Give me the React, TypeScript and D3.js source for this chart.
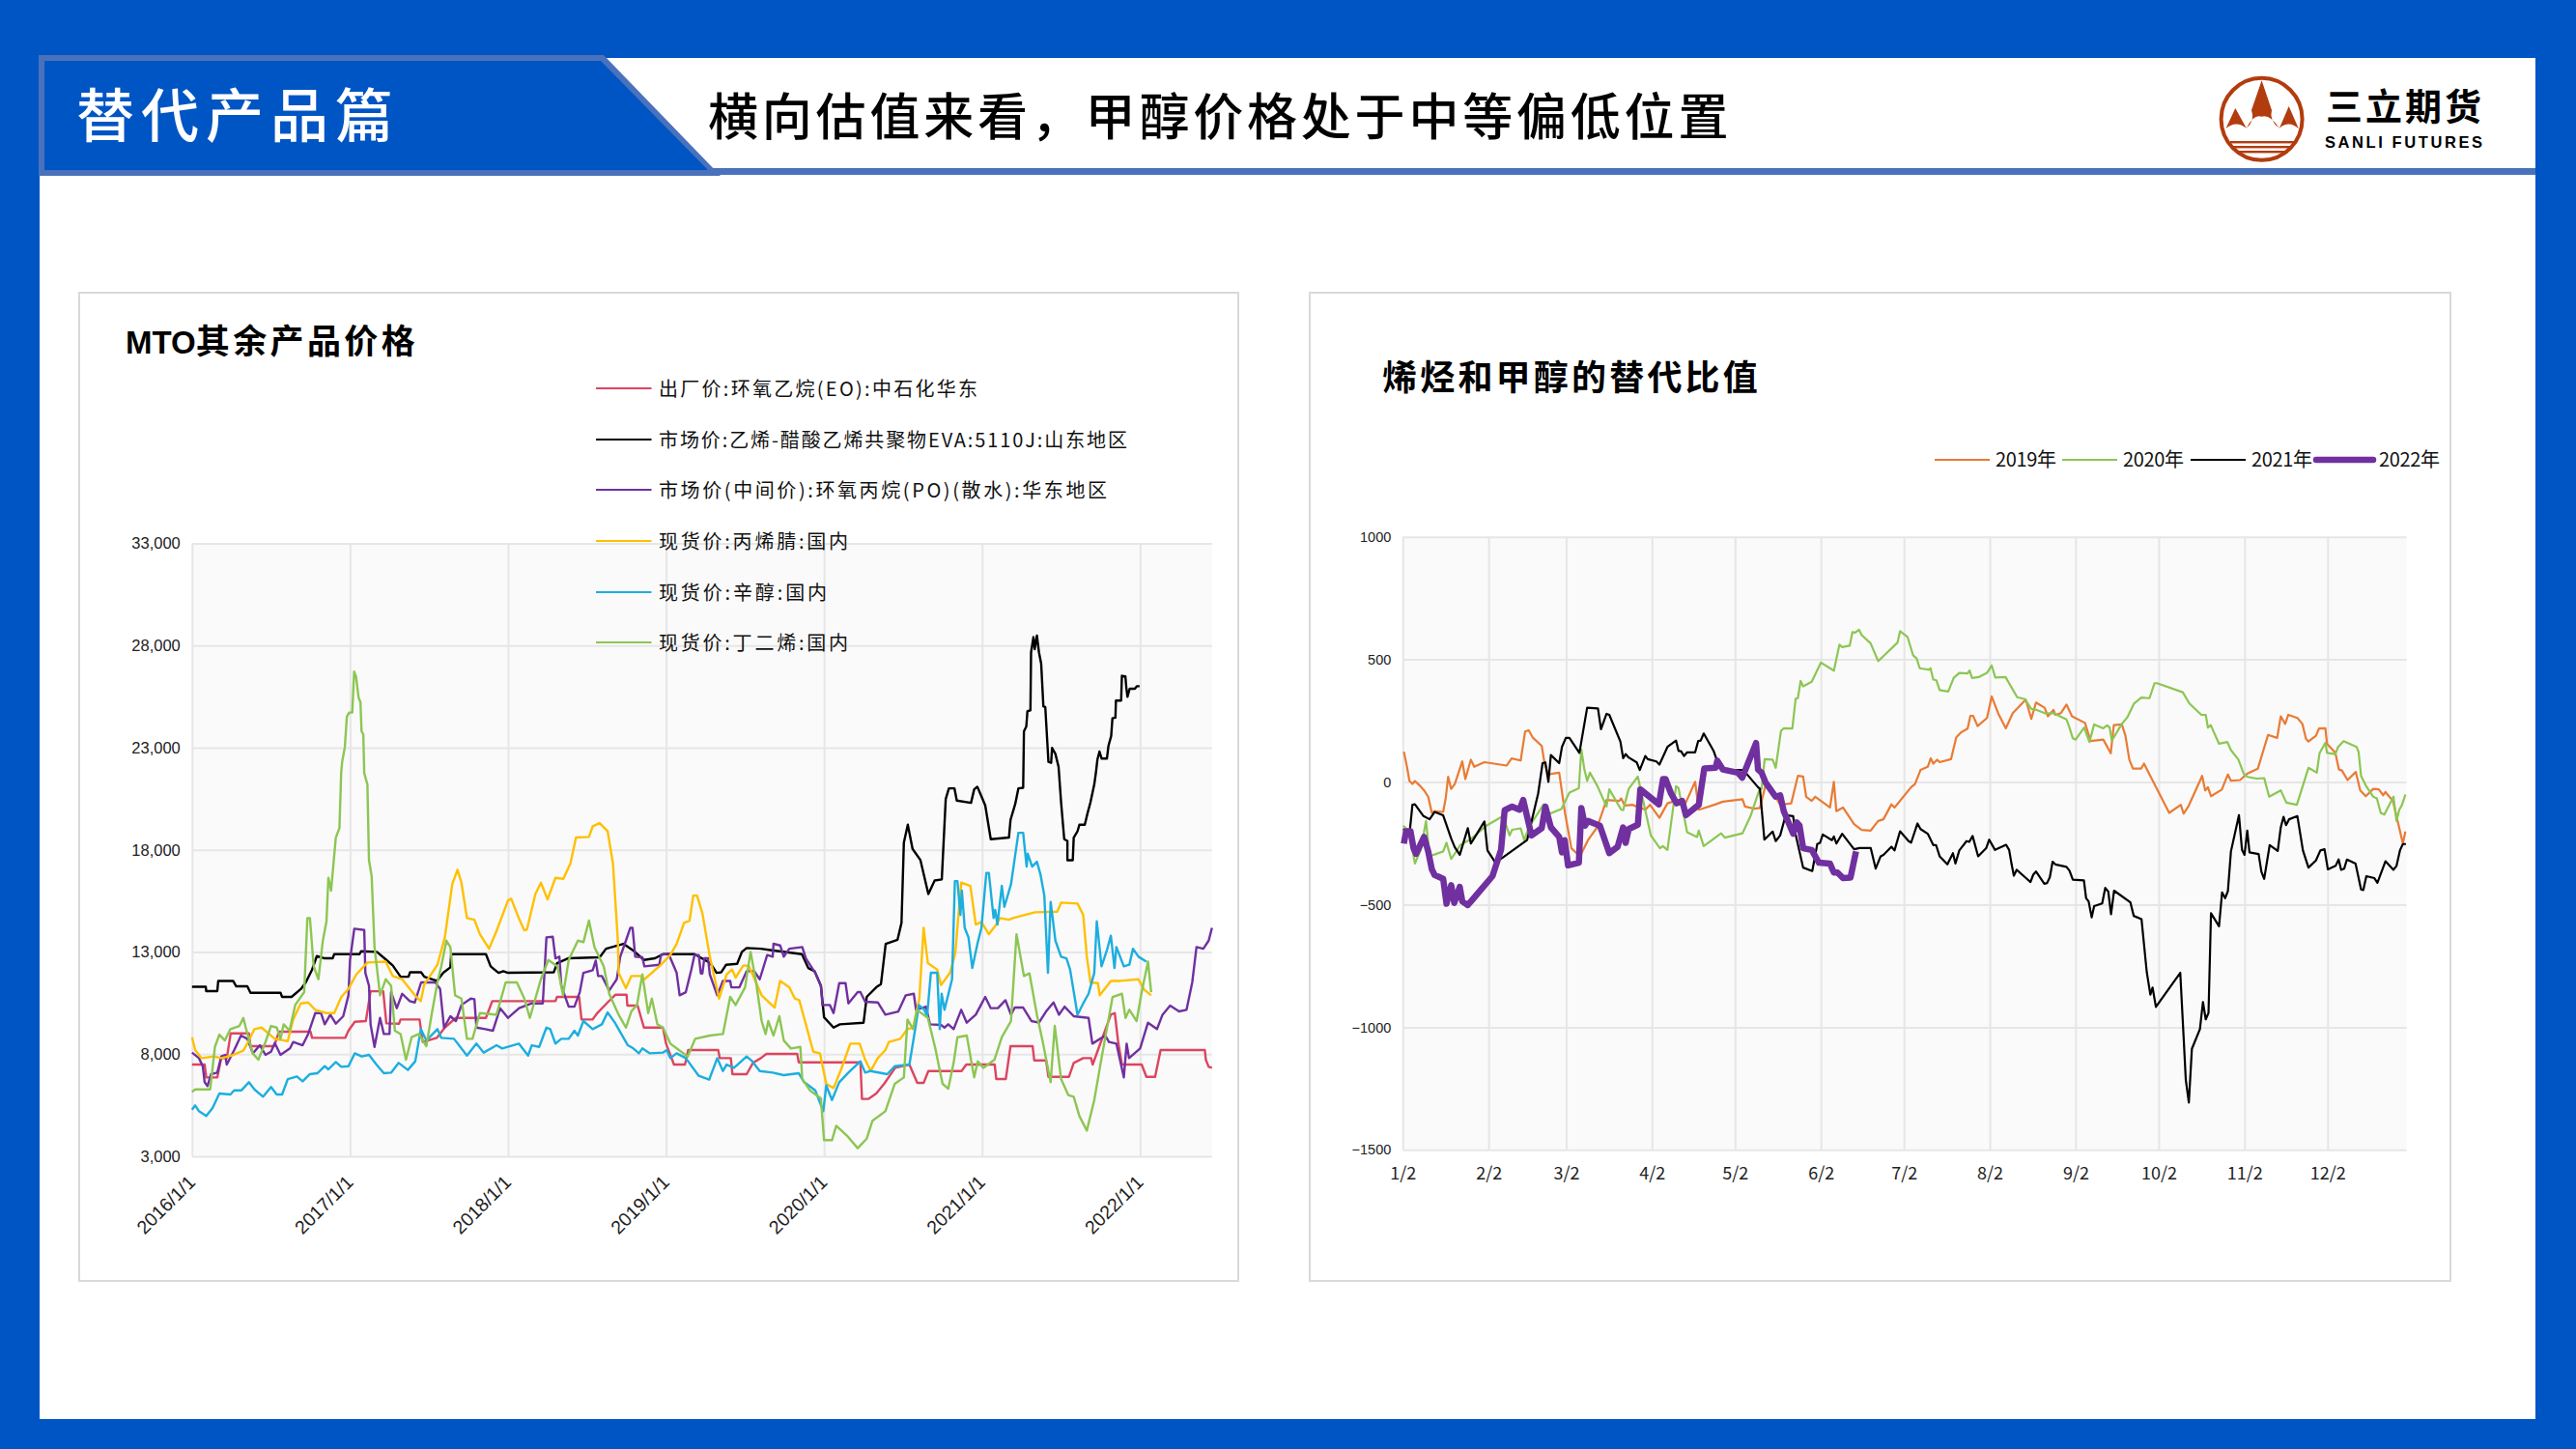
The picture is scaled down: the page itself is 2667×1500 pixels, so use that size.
import React, { useEffect, useRef } from 'react'
import * as d3 from 'd3'

type Pt = [number, number]

// left chart: [years since 2016/1/1, price]
const priceEO: Pt[] = [[0,7490],[.08,7490],[.09,6860],[.16,6860],[.185,7805],[.22,7805],[.245,9020],[.36,9020],[.37,8390],[.52,8390],[.55,9100],[.75,9100],[.76,8800],[.97,8800],[.99,9145],[1.03,9585],[1.10,9620],[1.11,10090],[1.13,11080],[1.21,11080],[1.23,9505],[1.31,9490],[1.32,9695],[1.44,9695],[1.46,8595],[1.55,8800],[1.60,9300],[1.67,9775],[1.86,9775],[1.90,10595],[2.30,10595],[2.31,10800],[2.45,10800],[2.465,9695],[2.535,9695],[2.56,9965],[2.63,10530],[2.68,10910],[2.75,10910],[2.755,10375],[2.82,10375],[2.86,9300],[2.98,9300],[3.00,8515],[3.05,7490],[3.12,7490],[3.14,8200],[3.33,8200],[3.34,7805],[3.41,7805],[3.42,7020],[3.51,7020],[3.55,7570],[3.60,7805],[3.635,8010],[3.83,8010],[3.84,7600],[4.23,7600],[4.24,5805],[4.28,5805],[4.33,6070],[4.38,6545],[4.45,7330],[4.54,7490],[4.59,6590],[4.63,6590],[4.66,7175],[4.87,7175],[4.90,7490],[5.08,7490],[5.09,6780],[5.15,6780],[5.18,8390],[5.32,8390],[5.33,7695],[5.405,7695],[5.42,6890],[5.55,6890],[5.58,7570],[5.64,7805],[5.69,7805],[5.70,7490],[5.73,8130],[5.815,9930],[5.84,10010],[5.86,8670],[5.885,7490],[6.01,7490],[6.04,6890],[6.095,6890],[6.13,8200],[6.41,8200],[6.416,7725],[6.434,7380],[6.455,7330]]

const priceEVA: Pt[] = [[0,11300],[.087,11300],[.09,11085],[.16,11085],[.166,11585],[.26,11585],[.28,11320],[.35,11320],[.37,11005],[.56,11005],[.57,10800],[.63,10800],[.69,11195],[.72,11510],[.76,12140],[.79,12800],[.84,12690],[.89,12690],[.90,12895],[1.06,12895],[1.07,13035],[1.17,13005],[1.23,12610],[1.27,12345],[1.32,11790],[1.37,11790],[1.38,12010],[1.45,12010],[1.47,11790],[1.55,11585],[1.59,11980],[1.635,12250],[1.64,12895],[1.86,12895],[1.89,12295],[1.94,11980],[1.97,12060],[2.0,11980],[2.29,12010],[2.31,12455],[2.38,12690],[2.58,12740],[2.62,13160],[2.73,13400],[2.79,13085],[2.86,12610],[2.93,12690],[2.98,12895],[3.18,12895],[3.28,12455],[3.32,11980],[3.35,12010],[3.38,12375],[3.45,12420],[3.48,13005],[3.51,13195],[3.60,13160],[3.67,13085],[3.86,12895],[3.90,12215],[3.94,12060],[3.98,11350],[4.0,9805],[4.06,9300],[4.10,9460],[4.25,9540],[4.27,10800],[4.33,11270],[4.36,11430],[4.39,13400],[4.465,13600],[4.49,14425],[4.505,18360],[4.53,19230],[4.56,18050],[4.61,17495],[4.66,15840],[4.70,16500],[4.745,16550],[4.77,20490],[4.79,21010],[4.825,21010],[4.84,20410],[4.93,20300],[4.95,20960],[4.97,21090],[5.02,20175],[5.055,18520],[5.17,18600],[5.18,19465],[5.21,20250],[5.23,21010],[5.26,21040],[5.265,23805],[5.28,24040],[5.287,24785],[5.306,24830],[5.31,27670],[5.325,28410],[5.333,27825],[5.347,28490],[5.36,27670],[5.374,27115],[5.388,25020],[5.40,24990],[5.42,22305],[5.437,22260],[5.443,22985],[5.464,22700],[5.484,22070],[5.487,21750],[5.50,20330],[5.52,18520],[5.54,18440],[5.54,17495],[5.574,17495],[5.58,18600],[5.604,18910],[5.616,19230],[5.65,19230],[5.667,19780],[5.686,20330],[5.71,21200],[5.72,21755],[5.73,22420],[5.743,22810],[5.757,22465],[5.79,22465],[5.80,23095],[5.817,23570],[5.825,24435],[5.844,24470],[5.847,25305],[5.88,25305],[5.885,26520],[5.907,26485],[5.913,25935],[5.92,25490],[5.934,25885],[5.967,25885],[5.98,26010],[5.997,26010]]

const pricePO: Pt[] = [[0,8075],[.044,7805],[.068,7410],[.08,6625],[.098,6435],[.12,7020],[.16,7095],[.185,7885],[.21,7965],[.22,7490],[.267,8200],[.31,8910],[.35,8750],[.37,8355],[.385,8040],[.43,8435],[.465,7965],[.50,8120],[.524,8545],[.56,7965],[.62,8280],[.64,8595],[.70,8435],[.735,8985],[.78,10010],[.816,10010],[.84,9460],[.875,9930],[.91,9490],[.957,9855],[.99,10880],[1.0,12610],[1.027,14140],[1.09,14075],[1.097,11980],[1.12,11350],[1.13,9460],[1.155,8355],[1.19,9775],[1.214,8985],[1.25,8985],[1.26,11035],[1.296,10250],[1.33,10955],[1.378,10595],[1.41,10530],[1.45,11510],[1.54,11510],[1.57,11195],[1.595,9300],[1.635,9855],[1.67,9620],[1.705,10405],[1.764,10720],[1.787,10690],[1.80,9300],[1.857,9225],[1.904,9145],[1.95,10250],[2.0,9775],[2.07,10250],[2.15,10485],[2.22,10485],[2.243,13715],[2.283,13745],[2.30,12690],[2.325,12770],[2.337,11350],[2.384,10325],[2.42,10325],[2.454,11035],[2.477,11980],[2.536,12105],[2.555,12580],[2.57,11825],[2.594,11825],[2.64,11115],[2.688,11665],[2.71,12770],[2.746,13555],[2.774,14185],[2.788,14185],[2.805,12770],[2.85,12740],[2.863,12295],[2.957,12375],[2.968,12850],[3.015,12925],[3.067,11980],[3.086,10880],[3.125,11035],[3.16,12140],[3.18,12850],[3.207,12850],[3.22,11950],[3.23,11950],[3.242,12690],[3.266,12690],[3.277,11900],[3.324,10880],[3.36,11585],[3.406,11585],[3.413,11270],[3.464,11270],[3.51,12060],[3.558,12060],[3.593,11665],[3.64,12850],[3.675,12770],[3.68,13400],[3.722,13320],[3.745,12770],[3.78,13160],[3.862,13240],[3.885,12690],[3.944,11980],[3.98,11350],[3.99,10405],[4.037,10405],[4.06,10010],[4.096,11475],[4.136,11475],[4.154,10485],[4.213,11035],[4.23,11035],[4.26,10565],[4.34,10530],[4.388,9930],[4.47,10090],[4.517,10880],[4.568,10955],[4.582,10170],[4.645,10325],[4.67,9460],[4.74,9430],[4.762,9300],[4.786,9460],[4.82,9225],[4.868,10170],[4.903,9540],[4.96,9930],[5.02,10800],[5.055,10250],[5.10,10250],[5.148,10640],[5.183,9930],[5.207,10280],[5.26,10280],[5.312,9620],[5.36,9540],[5.405,10090],[5.452,10530],[5.487,9930],[5.522,10325],[5.58,9855],[5.674,9775],[5.698,8515],[5.78,8910],[5.803,8595],[5.85,8515],[5.897,6860],[5.915,8515],[5.93,7805],[6.0,8280],[6.05,9540],[6.107,9225],[6.142,9930],[6.19,10375],[6.247,10090],[6.294,10170],[6.33,11510],[6.357,13240],[6.4,13160],[6.434,13555],[6.455,14185]]

const priceAN: Pt[] = [[0,8830],[.02,8200],[.06,7805],[.138,7885],[.185,7805],[.243,7915],[.325,8170],[.36,8670],[.395,9225],[.44,9300],[.524,8750],[.606,8640],[.64,9695],[.688,10485],[.735,10530],[.78,10170],[.85,10010],[.90,10010],[.945,10800],[.99,11195],[1.04,11900],[1.11,12485],[1.226,12530],[1.27,11825],[1.33,11665],[1.41,10880],[1.448,10595],[1.47,11430],[1.506,11825],[1.553,12375],[1.60,13715],[1.647,16315],[1.68,17025],[1.705,16395],[1.74,14660],[1.787,14580],[1.822,13870],[1.88,13160],[1.927,14030],[2.0,15525],[2.02,15605],[2.068,14660],[2.103,14060],[2.12,14110],[2.173,15840],[2.208,16395],[2.25,15575],[2.30,16630],[2.35,16580],[2.395,17340],[2.43,18600],[2.512,18630],[2.536,19150],[2.58,19310],[2.63,18915],[2.664,17340],[2.695,13555],[2.70,11980],[2.746,11225],[2.78,11825],[2.84,11825],[2.863,11665],[2.957,12295],[3.027,12850],[3.067,13400],[3.114,14425],[3.149,14535],[3.172,15760],[3.196,15760],[3.23,14895],[3.277,12770],[3.336,10720],[3.383,11900],[3.418,12140],[3.44,11745],[3.488,12330],[3.523,12330],[3.605,10880],[3.687,10280],[3.722,11585],[3.78,11270],[3.815,10720],[3.843,10640],[3.932,8120],[3.974,8040],[4.014,6545],[4.06,6340],[4.108,7255],[4.166,8515],[4.225,8515],[4.26,7725],[4.295,7175],[4.34,7805],[4.388,8200],[4.41,8595],[4.482,8750],[4.528,9225],[4.564,9300],[4.603,10720],[4.63,14185],[4.657,12455],[4.716,12140],[4.74,11380],[4.797,11980],[4.83,12925],[4.868,16395],[4.926,16235],[4.96,14345],[4.996,14470],[5.043,13870],[5.09,14345],[5.113,14660],[5.17,14580],[5.195,14660],[5.335,14945],[5.476,14975],[5.5,15415],[5.604,15370],[5.64,14815],[5.663,12770],[5.686,11510],[5.733,11475],[5.745,10880],[5.815,11585],[5.873,11585],[5.99,11665],[6.025,11160],[6.07,10880]]

const priceOctanol: Pt[] = [[0,5285],[.02,5490],[.044,5205],[.09,4970],[.13,5365],[.173,6070],[.243,6025],[.267,6230],[.313,6230],[.36,6625],[.395,6275],[.45,5915],[.50,6390],[.536,6025],[.57,6025],[.606,6780],[.664,6910],[.70,6670],[.746,7020],[.793,7065],[.84,7410],[.863,7255],[.91,7615],[.945,7380],[.99,7410],[1.03,8040],[1.074,7885],[1.12,7965],[1.167,7490],[1.214,7065],[1.26,7095],[1.308,7570],[1.366,7225],[1.413,7650],[1.448,9225],[1.483,8670],[1.553,9225],[1.577,8800],[1.658,8750],[1.74,7930],[1.80,8515],[1.846,8075],[1.927,8435],[1.963,8280],[2.068,8515],[2.127,7930],[2.15,8435],[2.197,8355],[2.243,9300],[2.267,9225],[2.30,8515],[2.337,8750],[2.384,8750],[2.42,9145],[2.442,8910],[2.477,9620],[2.536,9225],[2.594,9460],[2.63,10045],[2.676,9540],[2.758,8435],[2.793,8280],[2.828,8040],[2.85,8280],[2.898,8040],[2.98,8075],[3.004,8200],[3.027,7805],[3.067,8040],[3.125,7805],[3.207,6940],[3.273,6750],[3.324,7805],[3.36,7175],[3.383,7490],[3.43,7330],[3.476,7650],[3.51,7885],[3.546,7650],[3.593,7175],[3.675,7095],[3.745,6970],[3.84,7065],[3.874,6625],[3.944,6230],[3.995,5205],[4.014,6465],[4.05,5755],[4.096,6625],[4.154,7095],[4.23,7650],[4.26,7095],[4.295,7175],[4.4,7020],[4.447,7410],[4.54,7490],[4.575,9145],[4.6,10405],[4.634,10170],[4.652,9855],[4.676,11980],[4.716,11980],[4.732,9225],[4.744,10955],[4.762,10170],[4.81,11665],[4.828,16470],[4.844,16470],[4.863,14815],[4.872,16000],[4.89,14185],[4.914,13715],[4.938,12215],[4.973,13480],[4.996,14185],[5.027,16865],[5.043,16865],[5.073,14660],[5.083,15055],[5.097,14345],[5.125,16235],[5.141,15210],[5.183,16315],[5.23,18835],[5.26,18835],[5.282,17180],[5.289,17810],[5.317,17180],[5.347,17415],[5.37,16785],[5.394,15760],[5.417,11980],[5.434,15450],[5.464,13555],[5.5,12770],[5.534,12690],[5.557,12140],[5.604,9930],[5.64,10485],[5.674,10955],[5.71,11980],[5.726,14500],[5.756,12295],[5.79,13085],[5.815,13795],[5.838,12215],[5.85,13240],[5.897,12295],[5.932,12375],[5.955,13160],[5.99,12770],[6.04,12530]]

const priceButadiene: Pt[] = [[0,6150],[.02,6275],[.115,6275],[.145,8355],[.173,8955],[.208,8670],[.243,9225],[.30,9380],[.325,9775],[.34,9300],[.384,8040],[.42,7725],[.465,8595],[.50,9380],[.536,9300],[.56,8750],[.58,9460],[.617,9145],[.653,10405],[.71,11035],[.73,14660],[.746,14660],[.77,12295],[.80,11665],[.828,13555],[.851,14500],[.863,16630],[.88,16000],[.91,18600],[.933,19070],[.944,21755],[.95,22300],[.967,23015],[.98,24515],[.995,24720],[1.014,24720],[1.026,26720],[1.038,26485],[1.054,25460],[1.066,25225],[1.073,23805],[1.084,23650],[1.09,21755],[1.11,21200],[1.12,17495],[1.137,16710],[1.155,13240],[1.19,10880],[1.226,11665],[1.26,11350],[1.284,9145],[1.32,8985],[1.354,7725],[1.39,8830],[1.436,8985],[1.483,8390],[1.518,10010],[1.553,11510],[1.577,12295],[1.61,13555],[1.635,13240],[1.665,10880],[1.705,10720],[1.74,8750],[1.775,8750],[1.822,10010],[1.927,9930],[1.985,11510],[2.056,11510],[2.103,10720],[2.138,9775],[2.208,11665],[2.255,12610],[2.313,12295],[2.348,10880],[2.384,12610],[2.442,13555],[2.477,13480],[2.512,14535],[2.547,13240],[2.606,12295],[2.64,10955],[2.7,9930],[2.746,9300],[2.78,10090],[2.816,10405],[2.85,11900],[2.887,10010],[2.91,10720],[2.945,9460],[2.98,9300],[3.027,8515],[3.067,8280],[3.137,7885],[3.184,8750],[3.277,8910],[3.36,8985],[3.406,10800],[3.44,10405],[3.5,11270],[3.535,13005],[3.57,11510],[3.605,9620],[3.63,8985],[3.647,9620],[3.68,8910],[3.717,9855],[3.745,8670],[3.79,8280],[3.85,8355],[3.862,6780],[3.91,6230],[3.98,5835],[4.0,3790],[4.05,3790],[4.077,4495],[4.143,4025],[4.213,3395],[4.27,3865],[4.306,4735],[4.388,5205],[4.447,6545],[4.505,6860],[4.528,9695],[4.564,9225],[4.587,10170],[4.657,9775],[4.704,8280],[4.75,6545],[4.786,6310],[4.82,7570],[4.844,8830],[4.903,8910],[4.95,6860],[4.973,7650],[5.008,7330],[5.078,7725],[5.125,8830],[5.183,9620],[5.218,13870],[5.265,11825],[5.3,11950],[5.347,9930],[5.382,8670],[5.434,6625],[5.46,9380],[5.5,6780],[5.546,5995],[5.58,5915],[5.616,4970],[5.663,4260],[5.71,5755],[5.756,7805],[5.826,10800],[5.885,10955],[5.908,9775],[5.932,10170],[5.978,9620],[6.01,11035],[6.05,12530],[6.07,11035]]

const priceNames = ['出厂价:环氧乙烷(EO):中石化华东', '市场价:乙烯-醋酸乙烯共聚物EVA:5110J:山东地区', '市场价(中间价):环氧丙烷(PO)(散水):华东地区', '现货价:丙烯腈:国内', '现货价:辛醇:国内', '现货价:丁二烯:国内']
const priceColors = ['#DC4560', '#000000', '#7030A0', '#FFC000', '#1CAEDF', '#8CC653']
const priceSeries = [priceEO, priceEVA, pricePO, priceAN, priceOctanol, priceButadiene]
const priceTicks = [3000, 8000, 13000, 18000, 23000, 28000, 33000]
const yearTicks = [0, 1, 2, 3, 4, 5, 6]
const yearLabels = ['2016/1/1', '2017/1/1', '2018/1/1', '2019/1/1', '2020/1/1', '2021/1/1', '2022/1/1']
const legendWidths = [330, 485, 464, 196, 174, 196]

// right chart: [days since 1/2, ratio]
const ratio2019: Pt[] = [[.4,123],[1.5,64],[2.4,5],[3.5,-8],[4.4,4],[6.1,-14],[7.7,-34],[9.2,-60],[10.5,-126],[11.5,-119],[14.6,-122],[15.5,-67],[16.4,21],[17.5,-28],[18.8,-8],[21.5,84],[22.6,12],[24.6,91],[25.8,62],[29.5,81],[37.5,67],[39.3,96],[42.6,88],[44.2,206],[45.5,211],[46.9,182],[50.2,147],[51.1,84],[52.5,31],[56.5,38],[58.6,-126],[60.9,-270],[64,-303],[66.9,-237],[70.2,-185],[73.6,-73],[78.2,-77],[78.9,-67],[80.2,-96],[82.9,-93],[87.6,-113],[89.3,-93],[92.7,-146],[95.6,-87],[98.3,-77],[101.6,-100],[105.6,1],[106.9,-113],[108.9,-106],[113,-91],[115.6,-80],[122.7,-70],[123.6,-100],[127,-109],[129,-106],[131,-14],[133.6,-41],[136.3,-93],[140.3,-87],[142.7,25],[144.6,22],[145.7,-60],[147.7,-77],[149,-60],[154.3,-104],[155.7,1],[156.6,-119],[159,-104],[163,-172],[165.7,-195],[169,-198],[171.7,-159],[173.6,-152],[176.5,-91],[177.6,-104],[183.6,-21],[185,-8],[187,49],[189.6,62],[190.7,97],[191.6,75],[193,91],[193.9,81],[198,93],[199.9,182],[201.6,202],[204,218],[205,270],[206,270],[207.6,228],[211,261],[212.7,349],[215,281],[217.8,219],[220.3,281],[225,336],[227,257],[228.7,324],[231.8,303],[233,268],[235,294],[235.7,274],[237.7,281],[239.7,316],[241.7,268],[246.4,241],[248.4,167],[253,173],[255.7,117],[256.8,232],[259.7,235],[261,189],[262.4,91],[263.7,55],[266.7,55],[267.7,75],[276.8,-126],[281,-93],[282,-129],[283.7,-100],[288.7,25],[289.8,-34],[290.8,-21],[291.9,-58],[295.8,-31],[298,31],[299.1,5],[302.4,8],[305.1,35],[308.8,54],[312.5,192],[315.8,180],[317.1,268],[318.7,237],[319.8,274],[323.1,261],[324.9,237],[326.2,176],[327.1,165],[329.8,189],[330.9,218],[333.2,219],[333.8,156],[336.8,119],[338.1,51],[339.2,47],[341.2,8],[344.2,41],[345.8,-34],[347.8,-58],[350.5,-28],[352.5,-30],[354.1,-54],[354.9,-41],[357.6,-77],[361.2,-251],[362.1,-202]]

const ratio2020: Pt[] = [[.1,-178],[1.5,-192],[2.8,-231],[4.4,-332],[6.5,-277],[8.4,-159],[9.7,-303],[14.6,-283],[15.8,-248],[17.5,-314],[20.8,-257],[24.8,-231],[30.2,-178],[36.2,-139],[38.6,-218],[39.5,-195],[42.6,-189],[43.9,-237],[45.5,-185],[50.9,-91],[52.9,-130],[57.3,-110],[60.2,-43],[63.6,-25],[64.5,133],[65.6,51],[66.6,5],[67.6,38],[70.2,-14],[73.6,-100],[74.6,-30],[78.9,-113],[79.6,-115],[81.6,-28],[84.9,22],[86.9,-80],[89.6,-218],[92.9,-270],[93.9,-261],[95.6,-277],[98.7,-17],[99.6,-25],[102.7,-205],[106.3,-224],[106.9,-198],[108.7,-261],[115,-209],[116.3,-227],[122.7,-209],[125.6,-139],[129,-25],[129.6,-28],[130.7,93],[133.6,91],[134.7,58],[136.6,209],[137.6,219],[140.7,218],[141.9,340],[142.7,342],[143.7,412],[144.6,390],[147.7,409],[151,487],[155.7,454],[157.7,560],[158.7,550],[161.4,556],[162.4,611],[163.4,609],[164.8,621],[165.7,600],[169,565],[171.7,493],[173.6,513],[178.7,569],[179.6,615],[182.3,592],[184.3,517],[185.6,504],[186.7,464],[189.9,458],[190.6,464],[191.6,418],[192.7,415],[193.9,375],[197,369],[199,425],[201,445],[204,443],[204.7,455],[205.6,424],[208,428],[211,445],[212.7,475],[214,426],[217.7,428],[221.9,346],[224.7,338],[227,298],[229,294],[232.3,279],[235,281],[239.7,255],[240.4,235],[242,178],[243,173],[246.1,222],[248,163],[249.7,235],[253,219],[254.4,231],[255.3,222],[256.1,169],[259.7,237],[261.7,264],[264.1,320],[266.7,344],[269.7,342],[271.5,403],[272.4,403],[281.7,366],[284.1,320],[288.4,274],[290,274],[290.8,222],[291.8,232],[294.8,156],[297.8,163],[299.1,130],[301.8,91],[303.8,31],[305.1,21],[308.4,14],[311.1,16],[312.9,-60],[317.1,-34],[319.1,-84],[322.9,-93],[327.1,58],[330.1,38],[331.1,117],[333.2,160],[333.8,119],[336.8,114],[337.8,143],[339.8,167],[344.5,143],[345.2,123],[346.1,25],[347.8,-14],[350.5,-60],[351.8,-67],[353.2,-126],[354.5,-133],[357.8,-60],[358.9,-159],[359.9,-113],[360.9,-93],[362.1,-51]]

const ratio2021: Pt[] = [[.1,-192],[2.5,-205],[3.5,-93],[4.4,-91],[7.5,-139],[9.7,-152],[11.5,-122],[14.6,-136],[17.5,-231],[18.8,-266],[20.6,-297],[23.5,-188],[24.6,-251],[29.5,-161],[30.6,-279],[33.5,-329],[44.9,-237],[48.9,-47],[50.5,77],[51.5,80],[52.6,1],[53.5,110],[56.5,77],[57.5,143],[58.9,180],[60.2,180],[63.8,119],[66.6,303],[70.5,300],[71.6,215],[73.6,278],[74.6,274],[78.6,165],[79.6,97],[80.5,114],[81.6,100],[84.5,80],[85.6,49],[87.6,106],[88.5,93],[91.6,84],[92.7,71],[95.6,143],[98.7,169],[99.6,127],[100.5,126],[101.6,106],[102.7,121],[105.6,121],[106.7,167],[107.6,169],[108.7,198],[112.3,126],[113.6,84],[115.6,49],[123,49],[128.3,-21],[129,-28],[130.6,-235],[133.6,-202],[134.7,-241],[136.3,-218],[138.3,-135],[141,-139],[141.7,-205],[144.6,-349],[147.9,-363],[149.7,-253],[150.7,-248],[151.7,-214],[155,-237],[155.7,-222],[156.6,-251],[158.7,-211],[163,-274],[165,-269],[169,-269],[170.8,-353],[172.6,-303],[173.6,-297],[176.5,-264],[177.6,-279],[179.6,-201],[182.7,-241],[183.6,-247],[185.9,-169],[187,-192],[189.6,-211],[191.6,-257],[192.6,-257],[193.9,-303],[196.7,-336],[198.7,-290],[199.6,-332],[201,-279],[203.6,-241],[204.6,-244],[205.8,-220],[207.8,-303],[210.7,-270],[211.8,-235],[213.9,-277],[217.9,-256],[219,-277],[219.9,-336],[220.7,-382],[221.7,-358],[225,-391],[226.7,-408],[227.7,-378],[228.7,-365],[231.7,-415],[232.7,-412],[233.7,-388],[234.7,-325],[235.7,-336],[239.7,-346],[240.8,-362],[242,-398],[246,-401],[246.8,-474],[247.7,-487],[248.8,-552],[249.7,-506],[252.6,-495],[253.7,-432],[254.8,-447],[255.8,-539],[256.9,-443],[262.8,-491],[264,-546],[266.8,-559],[268.7,-775],[270,-867],[270.8,-838],[272,-917],[280.8,-778],[282,-1038],[282.8,-1215],[283.9,-1307],[285,-1088],[287.9,-1008],[289,-897],[290,-968],[291,-942],[291.9,-535],[294.8,-588],[295.9,-450],[297,-474],[298,-445],[299.1,-283],[302,-135],[303.1,-277],[304,-297],[305,-198],[305.8,-287],[309.1,-294],[310.1,-366],[311.1,-395],[313.1,-257],[316,-281],[317.1,-185],[318.1,-142],[319,-176],[320.1,-152],[323.1,-139],[325.1,-279],[327.1,-349],[329.8,-320],[331.4,-279],[332.9,-274],[334.1,-356],[336.9,-342],[338,-316],[338.9,-358],[340,-353],[341,-316],[344.1,-333],[346.1,-438],[346.9,-441],[348,-384],[350.9,-392],[352,-411],[354.9,-323],[357.8,-358],[358.9,-342],[360.2,-277],[361.2,-253],[362.3,-253]]

const ratio2022: Pt[] = [[.4,-251],[1.2,-201],[2.8,-201],[3.9,-270],[4.8,-293],[7.7,-224],[9.2,-283],[10.5,-356],[11.5,-379],[14.6,-395],[15.8,-496],[17.5,-421],[18.6,-493],[20.6,-428],[21.5,-487],[23.5,-502],[32.4,-384],[35.5,-277],[36.8,-115],[39.5,-100],[42.2,-113],[43.5,-73],[46.5,-218],[50.2,-188],[51.5,-100],[53.5,-185],[56.5,-224],[57.5,-287],[58.5,-237],[59.7,-340],[63.6,-329],[64.5,-106],[65.8,-178],[66.9,-159],[71.2,-178],[74.6,-290],[77.6,-264],[79.6,-185],[80.5,-248],[81.6,-192],[84.9,-174],[85.8,-30],[92.5,-91],[94,12],[94.9,12],[96.9,-47],[98.9,-87],[100.9,-77],[102.3,-135],[106.9,-93],[108.9,55],[113,58],[113.6,87],[115.6,51],[121,38],[122.6,18],[127.6,159],[128.3,51],[129.6,38],[131,-1],[134.7,-60],[136.3,-54],[137.6,-119],[141,-211],[142.3,-165],[143.3,-178],[144.6,-270],[147.7,-277],[150.3,-329],[154.3,-333],[155.7,-369],[157,-369],[159,-392],[161.7,-390],[163.7,-283]]

const ratioNames = ['2019年', '2020年', '2021年', '2022年']
const ratioColors = ['#E97B35', '#8CC653', '#000000', '#7030A0']
const ratioSeries = [ratio2019, ratio2020, ratio2021, ratio2022]
const ratioTicks = [-1500, -1000, -500, 0, 500, 1000]
const monthTicks = [0, 31, 59, 90, 120, 151, 181, 212, 243, 273, 304, 334]
const monthLabels = ['1/2', '2/2', '3/2', '4/2', '5/2', '6/2', '7/2', '8/2', '9/2', '10/2', '11/2', '12/2']

const BLUE = '#0055C4'
const STRIPE = '#4A72BC'
const GRID = '#E6E6E6'
const CJK = '"Noto Sans CJK SC", sans-serif'
const LATIN = '"Liberation Sans", sans-serif'

const App: React.FC = () => {
    const svgRef = useRef<SVGSVGElement | null>(null)

    useEffect(() => {
        if (!svgRef.current) return
        const svg = d3.select(svgRef.current)
        svg.selectAll('*').remove()

        // 页面框架
        svg.append('rect').attr('width', 2667).attr('height', 1500).attr('fill', BLUE)
        svg.append('rect').attr('x', 41).attr('y', 60).attr('width', 2584).attr('height', 1409).attr('fill', '#fff')
        svg.append('rect').attr('x', 700).attr('y', 174).attr('width', 1925).attr('height', 7).attr('fill', STRIPE)
        svg.append('path').attr('d', 'M40 57H625L746 182H40Z').attr('fill', STRIPE)
        svg.append('path').attr('d', 'M46 63H622L733 176H46Z').attr('fill', BLUE)

        svg.append('text').text('替代产品篇').attr('x', 79).attr('y', 142)
            .attr('fill', '#fff').attr('font-family', CJK).attr('font-size', 60)
            .attr('font-weight', 500).attr('letter-spacing', 7)
        svg.append('text').text('横向估值来看，甲醇价格处于中等偏低位置').attr('x', 733).attr('y', 140)
            .attr('fill', '#000').attr('font-family', CJK).attr('font-size', 52)
            .attr('font-weight', 500).attr('letter-spacing', 3.8)

        // logo
        const logo = svg.append('g')
        logo.append('ellipse').attr('cx', 2341.6).attr('cy', 123.3).attr('rx', 42).attr('ry', 42.5)
            .attr('fill', '#fff').attr('stroke', '#B23C0E').attr('stroke-width', 4)
        logo.append('path').attr('fill', '#B23C0E')
            .attr('d', 'M2304.5 133L2314.3 112L2325.8 132.7Q2335 125 2331 114L2341.6 83.3L2352 114Q2349 125 2359.9 132.7L2369.7 110L2379.9 133.3Q2370 124 2359.9 132.7Q2350 118 2341.6 120.7Q2333 118 2325.8 132.7Q2315 124 2304.5 133Z')
        ;[146, 151, 156].forEach((y, i) => {
            logo.append('rect').attr('x', 2309 + i * 3).attr('y', y).attr('width', 66 - i * 6)
                .attr('height', 2.4).attr('fill', '#B23C0E')
        })
        svg.append('text').text('三立期货').attr('x', 2408).attr('y', 124)
            .attr('font-family', CJK).attr('font-size', 38).attr('font-weight', 700).attr('letter-spacing', 3)
        svg.append('text').text('SANLI FUTURES').attr('x', 2407).attr('y', 152.5)
            .attr('font-family', LATIN).attr('font-size', 16.5).attr('font-weight', 700)
            .attr('textLength', 163)

        // 卡片
        const card = (x: number, w: number) =>
            svg.append('rect').attr('x', x).attr('y', 303).attr('width', w).attr('height', 1023)
                .attr('fill', '#fff').attr('stroke', '#D9D9D9').attr('stroke-width', 2)
        card(82, 1200)
        card(1356, 1181)

        // 左图
        const xPrice = d3.scaleLinear().domain([0, 6.455]).range([198.8, 1254.8])
        const yPrice = d3.scaleLinear().domain([3000, 33000]).range([1197, 562.5])
        const left = svg.append('g')
        left.append('rect').attr('x', 198.8).attr('y', 562.5).attr('width', 1056).attr('height', 634.5).attr('fill', '#FAFAFA')
        const leftY = left.append('g').attr('transform', 'translate(198.8,0)')
            .call(d3.axisLeft(yPrice).tickValues(priceTicks).tickSize(-1056).tickPadding(12).tickFormat(d3.format(',') as any))
        leftY.select('.domain').remove()
        const leftX = left.append('g').attr('transform', 'translate(0,1197)')
            .call(d3.axisBottom(xPrice).tickValues(yearTicks).tickSize(-634.5).tickFormat((_, i) => yearLabels[i]))
        leftX.select('.domain').remove()
        left.selectAll('.tick line').attr('stroke', GRID).attr('stroke-width', 2)
        leftY.selectAll('text').attr('font-family', LATIN).attr('font-size', 16.5).attr('fill', '#222')
        leftX.selectAll('text').attr('font-family', LATIN).attr('font-size', 19.5).attr('fill', '#222')
            .attr('text-anchor', 'end').attr('dy', 0).attr('y', 0)
            .attr('transform', 'translate(4,28) rotate(-45)')

        const priceLine = d3.line<Pt>().x((d) => xPrice(d[0])).y((d) => yPrice(d[1]))
        priceSeries.forEach((s, i) => {
            left.append('path').attr('d', priceLine(s)).attr('fill', 'none')
                .attr('stroke', priceColors[i]).attr('stroke-width', 2.4).attr('stroke-linejoin', 'round')
        })

        // 标题里 MTO 用窄体，一个 text 元素里放两段
        const leftTitle = svg.append('text').attr('x', 130).attr('y', 366)
            .attr('font-family', CJK).attr('font-size', 35).attr('font-weight', 700)
        leftTitle.append('tspan').text('MTO')
            .attr('font-family', '"Liberation Sans Narrow", "Liberation Sans", sans-serif').attr('font-size', 33)
        leftTitle.append('tspan').text('其余产品价格').attr('letter-spacing', 3.4)

        priceNames.forEach((name, i) => {
            const y = Math.round(402.3 + i * 52.55)
            svg.append('line').attr('x1', 617).attr('x2', 674.5).attr('y1', y).attr('y2', y)
                .attr('stroke', priceColors[i]).attr('stroke-width', 2.2)
            svg.append('text').text(name).attr('x', 682).attr('y', y + 7.5)
                .attr('font-family', CJK).attr('font-size', 20).attr('fill', '#111')
                .attr('textLength', legendWidths[i]).attr('lengthAdjust', 'spacing')
        })

        // 右图
        const xRatio = d3.scaleLinear().domain([0, 362.5]).range([1452.3, 2491.5])
        const yRatio = d3.scaleLinear().domain([-1500, 1000]).range([1190.3, 555.7])
        const right = svg.append('g')
        right.append('rect').attr('x', 1452.3).attr('y', 555.7).attr('width', 1039.2).attr('height', 634.6).attr('fill', '#FAFAFA')
        const rightY = right.append('g').attr('transform', 'translate(1452.3,0)')
            .call(d3.axisLeft(yRatio).tickValues(ratioTicks).tickSize(-1039.2).tickPadding(12).tickFormat(d3.format('d') as any))
        rightY.select('.domain').remove()
        const rightX = right.append('g').attr('transform', 'translate(0,1190.3)')
            .call(d3.axisBottom(xRatio).tickValues(monthTicks).tickSize(-634.6).tickPadding(18).tickFormat((_, i) => monthLabels[i]))
        rightX.select('.domain').remove()
        right.selectAll('.tick line').attr('stroke', GRID).attr('stroke-width', 2)
        rightY.selectAll('text').attr('font-family', LATIN).attr('font-size', 14.5).attr('fill', '#222')
        rightX.selectAll('text').attr('font-family', CJK).attr('font-size', 18).attr('fill', '#222')

        const ratioLine = d3.line<Pt>().x((d) => xRatio(d[0])).y((d) => yRatio(d[1]))
        ratioSeries.forEach((s, i) => {
            right.append('path').attr('d', ratioLine(s)).attr('fill', 'none')
                .attr('stroke', ratioColors[i]).attr('stroke-width', i === 3 ? 6.5 : 2.2)
                .attr('stroke-linejoin', 'round')
        })

        svg.append('text').text('烯烃和甲醇的替代比值').attr('x', 1431).attr('y', 404)
            .attr('font-family', CJK).attr('font-size', 36).attr('font-weight', 700).attr('letter-spacing', 3.2)

        const legendX = [2003, 2135, 2268, 2398]
        ratioNames.forEach((name, i) => {
            svg.append('line').attr('x1', legendX[i]).attr('x2', legendX[i] + (i === 3 ? 59 : 57))
                .attr('y1', 476).attr('y2', 476).attr('stroke', ratioColors[i])
                .attr('stroke-width', i === 3 ? 6.5 : 2.2).attr('stroke-linecap', i === 3 ? 'round' : 'butt')
            svg.append('text').text(name).attr('x', legendX[i] + (i === 3 ? 65 : 63)).attr('y', 483)
                .attr('font-family', CJK).attr('font-size', 20).attr('fill', '#111')
                .attr('textLength', 63).attr('lengthAdjust', 'spacing')
        })
    }, [])

    return (
        <svg
            ref={svgRef}
            width={2667}
            height={1500}
            style={{ position: 'absolute', left: 0, top: 0 }}
        ></svg>
    )
}

export default App
